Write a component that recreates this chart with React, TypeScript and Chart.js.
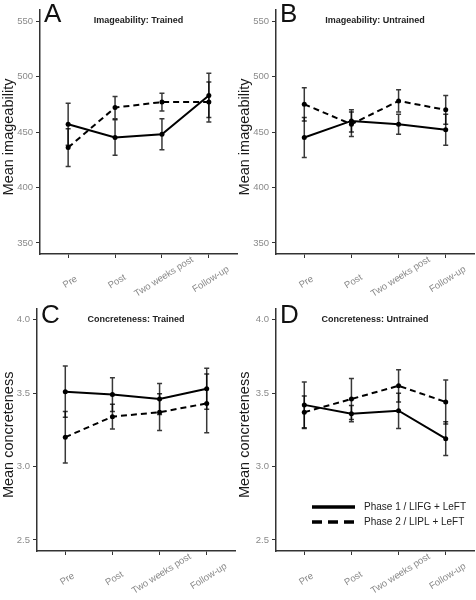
import React, { useEffect, useRef } from "react";
import { Chart, registerables } from "chart.js";
Chart.register(...registerables);

// ---------- data ----------
const categories = ["Pre", "Post", "Two weeks post", "Follow-up"];
const legendLabels = ["Phase 1 / LIFG + LeFT", "Phase 2 / LIPL + LeFT"];

const imgTrainedP1 = [457, 445, 448, 483];
const imgTrainedP1Err = [19, 16, 14, 20];
const imgTrainedP2 = [436, 472, 477, 477];
const imgTrainedP2Err = [17, 10, 8, 18];

const imgUntrainedP1 = [445, 460, 457, 452];
const imgUntrainedP1Err = [18, 10, 9, 14];
const imgUntrainedP2 = [475, 457, 478, 470];
const imgUntrainedP2Err = [15, 11, 10, 13];

const conTrainedP1 = [3.51, 3.49, 3.46, 3.53];
const conTrainedP1Err = [0.175, 0.115, 0.105, 0.14];
const conTrainedP2 = [3.2, 3.34, 3.37, 3.43];
const conTrainedP2Err = [0.175, 0.085, 0.125, 0.2];

const conUntrainedP1 = [3.42, 3.36, 3.38, 3.19];
const conUntrainedP1Err = [0.155, 0.055, 0.12, 0.115];
const conUntrainedP2 = [3.37, 3.46, 3.55, 3.44];
const conUntrainedP2Err = [0.11, 0.14, 0.11, 0.15];

const imgTicks = [350, 400, 450, 500, 550];
const conTicks = [2.5, 3.0, 3.5, 4.0];

const FONT = "'Liberation Sans', Arial, sans-serif";
const CW = 244;
const CH = 300;
const TICK_COLOR = "#8a8a8a";

type Panel = {
  letter: string;
  title: string;
  yTitle: string;
  p1: number[];
  p1Err: number[];
  p2: number[];
  p2Err: number[];
  ticks: number[];
  min: number;
  max: number;
  fmt: (v: number) => string;
  x: number;
  y: number;
  areaLeft: number;
  areaRight: number;
  areaTop: number;
  areaBottom: number;
  letterY: number;
  legend: boolean;
};

const panels: Panel[] = [
  {
    letter: "A", title: "Imageability: Trained", yTitle: "Mean imageability",
    p1: imgTrainedP1, p1Err: imgTrainedP1Err, p2: imgTrainedP2, p2Err: imgTrainedP2Err,
    ticks: imgTicks, min: 340, max: 560, fmt: (v) => String(v),
    x: 0, y: 0, areaLeft: 40, areaRight: 237, areaTop: 10, areaBottom: 254, letterY: 22, legend: false,
  },
  {
    letter: "B", title: "Imageability: Untrained", yTitle: "Mean imageability",
    p1: imgUntrainedP1, p1Err: imgUntrainedP1Err, p2: imgUntrainedP2, p2Err: imgUntrainedP2Err,
    ticks: imgTicks, min: 340, max: 560, fmt: (v) => String(v),
    x: 236, y: 0, areaLeft: 40, areaRight: 238, areaTop: 10, areaBottom: 254, letterY: 22, legend: false,
  },
  {
    letter: "C", title: "Concreteness: Trained", yTitle: "Mean concreteness",
    p1: conTrainedP1, p1Err: conTrainedP1Err, p2: conTrainedP2, p2Err: conTrainedP2Err,
    ticks: conTicks, min: 2.425, max: 4.075, fmt: (v) => v.toFixed(1),
    x: 0, y: 300, areaLeft: 37, areaRight: 235, areaTop: 7, areaBottom: 251, letterY: 23, legend: false,
  },
  {
    letter: "D", title: "Concreteness: Untrained", yTitle: "Mean concreteness",
    p1: conUntrainedP1, p1Err: conUntrainedP1Err, p2: conUntrainedP2, p2Err: conUntrainedP2Err,
    ticks: conTicks, min: 2.425, max: 4.075, fmt: (v) => v.toFixed(1),
    x: 236, y: 300, areaLeft: 40, areaRight: 238, areaTop: 7, areaBottom: 251, letterY: 23, legend: true,
  },
];

function makeErrorBarPlugin() {
  return {
    id: "errorBars",
    afterDatasetsDraw(chart: any) {
      const ctx = chart.ctx;
      const xs = chart.scales.x;
      const ys = chart.scales.y;
      ctx.save();
      ctx.strokeStyle = "rgba(0,0,0,0.78)";
      ctx.lineWidth = 1.5;
      ctx.setLineDash([]);
      chart.data.datasets.forEach((ds: any) => {
        const errs: number[] = ds.errors;
        ds.data.forEach((pt: any, j: number) => {
          const x = xs.getPixelForValue(pt.x);
          const yt = ys.getPixelForValue(pt.y + errs[j]);
          const yb = ys.getPixelForValue(pt.y - errs[j]);
          ctx.beginPath();
          ctx.moveTo(x, yt);
          ctx.lineTo(x, yb);
          ctx.moveTo(x - 2.5, yt);
          ctx.lineTo(x + 2.5, yt);
          ctx.moveTo(x - 2.5, yb);
          ctx.lineTo(x + 2.5, yb);
          ctx.stroke();
        });
      });
      ctx.restore();
    },
  };
}

function makeTextPlugin(p: Panel) {
  return {
    id: "panelText",
    afterDraw(chart: any) {
      const ctx = chart.ctx;
      const a = chart.chartArea;
      const xs = chart.scales.x;
      ctx.save();
      // rotated, centred category labels positioned by the x scale
      ctx.font = `9.5px ${FONT}`;
      ctx.fillStyle = TICK_COLOR;
      ctx.textAlign = "center";
      ctx.textBaseline = "middle";
      categories.forEach((label, i) => {
        const px = xs.getPixelForValue(i);
        const w = ctx.measureText(label).width;
        const cy = a.bottom + 29.5 - 0.1 * w;
        ctx.save();
        ctx.translate(px + 2, cy);
        ctx.rotate((-32 * Math.PI) / 180);
        ctx.fillText(label, 0, 0);
        ctx.restore();
      });
      // panel letter
      ctx.fillStyle = "#111";
      ctx.font = `26px ${FONT}`;
      ctx.textAlign = "left";
      ctx.textBaseline = "alphabetic";
      ctx.fillText(p.letter, a.left + 4, p.letterY);
      // title
      ctx.font = `bold 9px ${FONT}`;
      ctx.fillStyle = "#222";
      ctx.textAlign = "center";
      ctx.textBaseline = "middle";
      ctx.fillText(p.title, (a.left + a.right) / 2, a.top + 10.5);
      // y title
      ctx.save();
      ctx.translate(9, (a.top + a.bottom) / 2 + 5);
      ctx.rotate(-Math.PI / 2);
      ctx.font = `14.5px ${FONT}`;
      ctx.fillStyle = "#1a1a1a";
      ctx.textAlign = "center";
      ctx.textBaseline = "middle";
      ctx.fillText(p.yTitle, 0, 0);
      ctx.restore();
      // legend
      if (p.legend) {
        const lx0 = 76;
        const lx1 = 119;
        const rows = [207, 222];
        rows.forEach((ry, i) => {
          ctx.beginPath();
          ctx.strokeStyle = "#000";
          ctx.lineWidth = 3.5;
          ctx.setLineDash(i === 0 ? [] : [10, 6]);
          ctx.moveTo(lx0, ry);
          ctx.lineTo(lx1, ry);
          ctx.stroke();
          ctx.setLineDash([]);
          ctx.font = `10px ${FONT}`;
          ctx.fillStyle = "#222";
          ctx.textAlign = "left";
          ctx.textBaseline = "middle";
          ctx.fillText(legendLabels[i], 128, ry);
        });
      }
      ctx.restore();
    },
  };
}

function PanelChart({ p }: { p: Panel }) {
  const ref = useRef<HTMLCanvasElement | null>(null);
  useEffect(() => {
    if (!ref.current) return;
    const tickFont = { family: FONT, size: 9.5 };
    const chart = new Chart(ref.current, {
      type: "line",
      data: {
        datasets: [
          {
            label: legendLabels[0],
            data: p.p1.map((v, i) => ({ x: i, y: v })),
            errors: p.p1Err,
            borderColor: "#000",
            backgroundColor: "#000",
            borderWidth: 2,
            pointRadius: 2.5,
            pointBorderWidth: 0,
            pointBackgroundColor: "#000",
            tension: 0,
          } as any,
          {
            label: legendLabels[1],
            data: p.p2.map((v, i) => ({ x: i, y: v })),
            errors: p.p2Err,
            borderColor: "#000",
            backgroundColor: "#000",
            borderWidth: 2,
            borderDash: [6, 4],
            pointRadius: 2.5,
            pointBorderWidth: 0,
            pointBackgroundColor: "#000",
            tension: 0,
          } as any,
        ],
      },
      options: {
        animation: false,
        responsive: false,
        maintainAspectRatio: false,
        events: [],
        layout: {
          padding: { top: p.areaTop, right: CW - p.areaRight, left: 0, bottom: 0 },
        },
        plugins: {
          legend: { display: false },
          tooltip: { enabled: false },
          title: { display: false },
        },
        scales: {
          x: {
            type: "linear",
            min: -0.6,
            max: 3.6,
            afterBuildTicks: (s: any) => {
              s.ticks = categories.map((_, i) => ({ value: i }));
            },
            afterFit: (s: any) => {
              s.height = CH - p.areaBottom;
            },
            ticks: {
              display: false,
              autoSkip: false,
            },
            grid: { drawOnChartArea: false, drawTicks: true, tickLength: 4, color: "#333", lineWidth: 1 },
            border: { display: true, color: "#333", width: 1.5 },
          },
          y: {
            type: "linear",
            min: p.min,
            max: p.max,
            afterBuildTicks: (s: any) => {
              s.ticks = p.ticks.map((v) => ({ value: v }));
            },
            afterFit: (s: any) => {
              s.width = p.areaLeft;
            },
            ticks: {
              color: TICK_COLOR,
              font: tickFont,
              padding: 3,
              callback: (v: any) => p.fmt(Number(v)),
            },
            grid: { drawOnChartArea: false, drawTicks: true, tickLength: 4, color: "#333", lineWidth: 1 },
            border: { display: true, color: "#333", width: 1.5 },
          },
        },
      } as any,
      plugins: [makeErrorBarPlugin(), makeTextPlugin(p)],
    });
    return () => chart.destroy();
  }, [p]);
  return (
    <canvas
      ref={ref}
      width={CW}
      height={CH}
      style={{ position: "absolute", left: p.x, top: p.y, width: CW, height: CH }}
    />
  );
}

export default function App() {
  return (
    <div
      style={{
        position: "absolute",
        left: 0,
        top: 0,
        width: 476,
        height: 600,
        overflow: "hidden",
        background: "#fff",
      }}
    >
      {panels.map((p) => (
        <PanelChart key={p.letter} p={p} />
      ))}
    </div>
  );
}
